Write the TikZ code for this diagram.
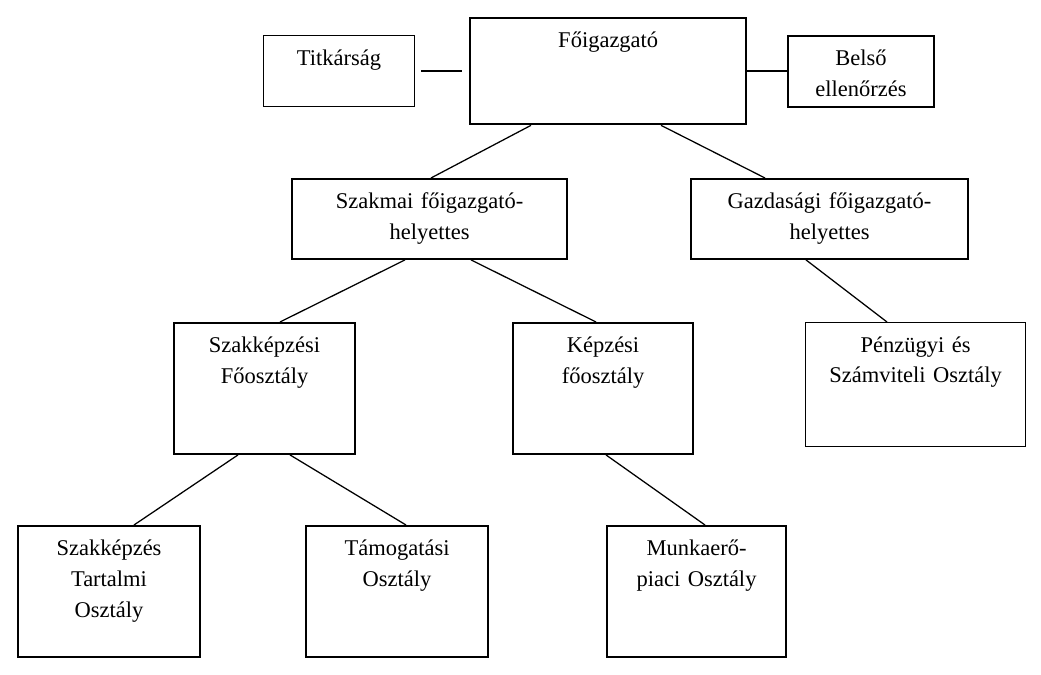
\documentclass[tikz,border=0pt]{standalone}
\usepackage{fontspec}
\setmainfont{Liberation Serif}
\usetikzlibrary{calc}

\begin{document}
\begin{tikzpicture}[x=0.025cm,y=-0.025cm]
\tikzstyle{lien}=[line width=0.9pt]
\tikzset{egyseg/.style={draw,line width=1.4pt,anchor=north west,align=center,
inner xsep=0pt,inner ysep=0pt,text height=21pt,
font=\fontsize{16}{22}\selectfont},
vekony/.style={line width=0.7pt}}
\useasboundingbox (0,0) rectangle (1041,675);

\node[egyseg,line width=1.7pt,text width=6.9cm,text depth=1.91cm] (FO) at (469,17) {Főigazgató};
\node[egyseg,vekony,text width=3.775cm,text depth=1.035cm] (TI) at (263,35) {Titkárság};
\node[egyseg,text width=3.65cm,text depth=1.035cm] (BE) at (787,35) {Belső\\ellenőrzés};

\node[egyseg,text width=6.875cm,text depth=1.26cm] (SZ) at (291,178) {Szakmai főigazgató-\\helyettes};
\node[egyseg,text width=6.925cm,text depth=1.26cm] (GA) at (690,178) {Gazdasági főigazgató-\\helyettes};

\node[egyseg,text width=4.525cm,text depth=2.535cm] (SZF) at (173,322) {Szakképzési\\Főosztály};
\node[egyseg,text width=4.5cm,text depth=2.535cm] (KF) at (512,322) {Képzési\\főosztály};
\node[egyseg,vekony,text width=5.5cm,text depth=2.36cm] (PSZ) at (805,322) {Pénzügyi és\\Számviteli Osztály};

\node[egyseg,text width=4.55cm,text depth=2.535cm] (SZT) at (17,525) {Szakképzés\\Tartalmi\\Osztály};
\node[egyseg,text width=4.55cm,text depth=2.535cm] (TO) at (305,525) {Támogatási\\Osztály};
\node[egyseg,text width=4.475cm,text depth=2.535cm] (MO) at (606,525) {Munkaerő-\\piaci Osztály};

% oldalso kapcsolatok
\draw[line width=1.5pt] ($(TI.east)+(6,0)$) -- ($(FO.west |- TI.east)+(-7,0)$);
\draw[line width=1.4pt] (FO.east |- BE.west) -- (BE.west);

\draw[lien] ($(FO.south west)+(62,0)$) -- ($(SZ.north west)+(140,0)$);
\draw[lien] ($(FO.south west)+(192,0)$) -- ($(GA.north west)+(75,0)$);
\draw[lien] ($(SZ.south west)+(114,0)$) -- ($(SZF.north west)+(107,0)$);
\draw[lien] ($(SZ.south west)+(180,0)$) -- ($(KF.north west)+(84,0)$);
\draw[lien] ($(GA.south west)+(116,0)$) -- ($(PSZ.north west)+(82,0)$);
\draw[lien] ($(SZF.south west)+(65,0)$) -- ($(SZT.north west)+(117,0)$);
\draw[lien] ($(SZF.south west)+(117,0)$) -- ($(TO.north west)+(101,0)$);
\draw[lien] ($(KF.south west)+(94,0)$) -- ($(MO.north west)+(99,0)$);

\end{tikzpicture}
\end{document}
